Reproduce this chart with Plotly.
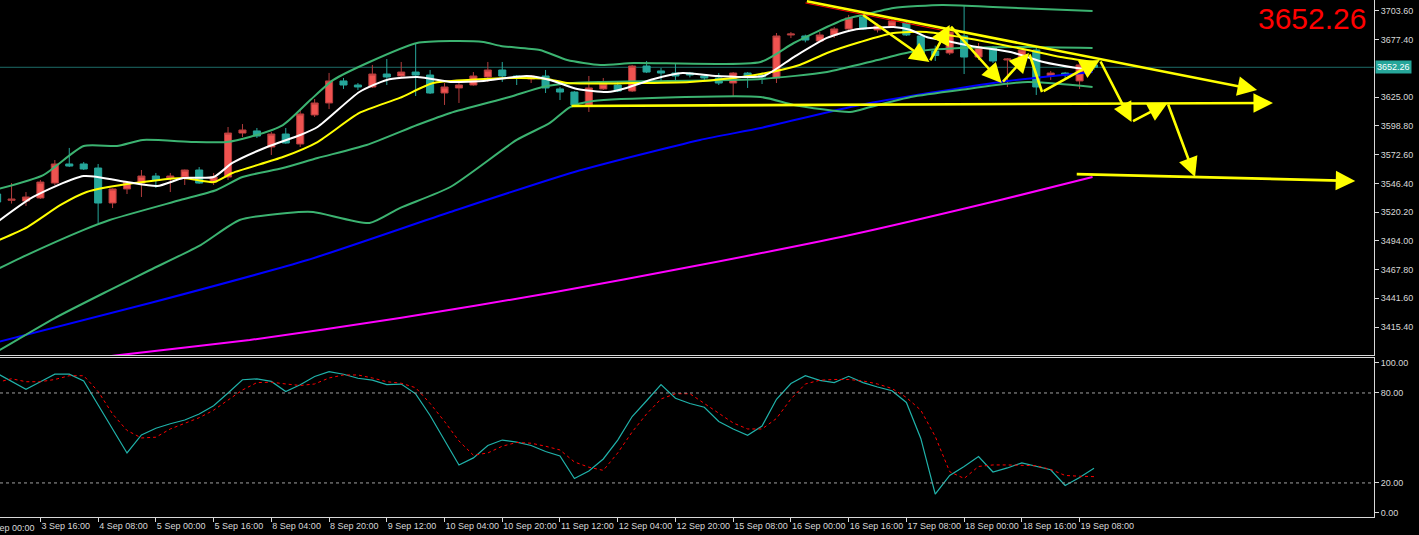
import plotly.graph_objects as go

# ---------------- data ----------------
bar_index = list(range(1, 78))

opens = [3536.7, 3531.0, 3530.3, 3533.1, 3546.7, 3564.1, 3564.1, 3560.4, 3528.5, 3541.3,
         3546.7, 3553.1, 3551.3, 3552.2, 3558.6, 3547.6, 3552.2, 3592.3, 3594.2, 3579.6,
         3591.4, 3582.3, 3608.8, 3619.7, 3639.8, 3636.1, 3634.3, 3646.1, 3644.3, 3647.9,
         3645.2, 3628.8, 3633.4, 3636.1, 3643.4, 3649.8, 3644.3, 3641.6, 3644.3, 3632.5,
         3629.7, 3617.9, 3632.5, 3636.1, 3630.6, 3653.4, 3648.9, 3647.0, 3647.0, 3644.3,
         3642.5, 3637.9, 3647.0, 3645.2, 3642.5, 3681.7, 3680.8, 3676.2, 3681.7, 3687.2,
         3698.1, 3686.3, 3689.9, 3692.6, 3680.8, 3667.0, 3665.3, 3680.8, 3661.6, 3669.9,
         3658.9, 3658.9, 3668.0, 3644.3, 3647.0, 3639.8, 3654.4]
highs = [3540.0, 3546.7, 3538.5, 3549.5, 3567.7, 3578.7, 3565.9, 3564.1, 3541.8, 3548.5,
         3558.6, 3555.9, 3555.9, 3559.0, 3561.3, 3555.9, 3597.8, 3600.5, 3596.9, 3593.2,
         3596.9, 3613.3, 3623.3, 3647.1, 3642.5, 3637.9, 3654.4, 3659.8, 3657.1, 3674.4,
         3649.8, 3637.9, 3640.7, 3647.9, 3657.1, 3657.1, 3645.2, 3645.2, 3649.8, 3634.3,
         3630.5, 3644.3, 3642.5, 3638.9, 3654.4, 3658.0, 3651.6, 3655.3, 3648.0, 3646.0,
         3647.0, 3647.9, 3647.9, 3647.0, 3683.5, 3684.4, 3682.0, 3684.4, 3689.0, 3700.0,
         3701.8, 3692.0, 3697.2, 3695.0, 3683.5, 3672.0, 3689.0, 3709.0, 3674.4, 3671.7,
         3660.7, 3669.9, 3670.8, 3648.9, 3648.0, 3657.1, 3657.0]
lows = [3527.0, 3528.0, 3525.8, 3532.2, 3544.9, 3561.3, 3558.6, 3510.3, 3523.9, 3536.7,
        3534.0, 3542.2, 3538.5, 3544.9, 3546.0, 3544.9, 3549.5, 3588.7, 3587.8, 3572.3,
        3582.5, 3579.6, 3606.9, 3614.2, 3632.5, 3631.6, 3633.4, 3636.1, 3643.4, 3626.1,
        3627.9, 3617.9, 3619.7, 3635.5, 3638.9, 3638.9, 3636.1, 3637.9, 3628.8, 3622.4,
        3616.0, 3611.5, 3631.6, 3629.7, 3629.7, 3647.0, 3638.9, 3637.9, 3643.0, 3640.7,
        3636.1, 3625.2, 3633.4, 3637.0, 3637.9, 3678.9, 3675.0, 3675.3, 3679.0, 3684.4,
        3686.3, 3684.0, 3689.0, 3680.8, 3663.5, 3658.0, 3663.5, 3646.1, 3658.9, 3656.2,
        3634.3, 3657.1, 3627.0, 3640.7, 3642.5, 3632.5, 3650.0]
closes = [3529.4, 3532.0, 3534.0, 3547.6, 3564.1, 3562.2, 3559.5, 3528.5, 3541.3, 3547.6,
          3553.1, 3549.5, 3553.1, 3558.6, 3546.7, 3552.2, 3592.3, 3595.1, 3589.6, 3591.4,
          3583.2, 3609.7, 3619.7, 3639.8, 3636.1, 3634.3, 3646.1, 3643.4, 3647.9, 3645.2,
          3628.8, 3634.3, 3636.1, 3644.3, 3649.8, 3644.3, 3642.5, 3644.3, 3633.4, 3629.7,
          3617.9, 3633.4, 3637.0, 3630.6, 3653.4, 3647.9, 3647.0, 3644.3, 3645.2, 3642.5,
          3637.9, 3647.0, 3644.3, 3643.4, 3680.8, 3682.6, 3677.1, 3681.7, 3687.2, 3697.2,
          3687.2, 3689.9, 3694.5, 3681.7, 3665.3, 3663.0, 3684.4, 3661.6, 3670.8, 3658.0,
          3659.8, 3668.0, 3634.3, 3647.0, 3645.2, 3654.4, 3652.26]

# Bollinger bands
upper_x = [1.0, 4.2, 7.0, 9.3, 11.1, 14.6, 16.9, 18.5, 20.8, 22.7, 24.3, 26.8, 30.1, 32.4,
           34.7, 35.9, 38.6, 40.5, 42.8, 45.1, 53.9, 56.2, 59.6, 61.0, 63.1, 66.5, 70.0, 76.9]
upper_y = [3541.0, 3554.0, 3580.5, 3580.5, 3586.0, 3584.1, 3584.1, 3588.7, 3599.6, 3622.4,
           3640.7, 3657.1, 3674.4, 3676.2, 3675.3, 3671.7, 3668.0, 3658.9, 3654.4, 3656.2,
           3657.1, 3674.4, 3695.4, 3700.0, 3706.3, 3709.1, 3707.2, 3703.6]
mid_x = [1.0, 2.6, 7.0, 8.8, 13.7, 16.2, 18.0, 20.8, 23.2, 26.6, 30.1, 32.4, 36.5, 38.8,
         40.9, 42.8, 53.9, 58.5, 62.0, 64.3, 67.7, 72.4, 76.9]
mid_y = [3468.0, 3478.3, 3504.0, 3513.0, 3531.2, 3540.4, 3552.2, 3560.4, 3569.5, 3581.4,
         3599.6, 3610.6, 3625.2, 3634.3, 3637.9, 3638.9, 3641.6, 3648.0, 3658.9, 3666.2,
         3669.9, 3670.8, 3669.9]
lower_x = [1.0, 5.0, 8.8, 11.6, 15.1, 17.8, 21.1, 22.9, 26.8, 28.9, 32.4, 37.0, 39.3, 40.7,
           42.3, 53.9, 56.2, 60.1, 61.5, 64.3, 67.7, 72.4, 76.9]
lower_y = [3393.0, 3423.6, 3449.1, 3467.4, 3490.2, 3513.0, 3519.4, 3520.3, 3510.3, 3523.9,
           3543.1, 3586.0, 3601.5, 3616.0, 3621.5, 3625.2, 3617.9, 3611.5, 3616.0, 3625.2,
           3631.6, 3638.9, 3634.3]

# moving averages
white_x = [1.0, 3.5, 7.0, 10.0, 12.1, 13.9, 16.0, 17.3, 19.7, 22.0, 23.2, 26.1, 28.0, 30.1,
           32.4, 33.1, 34.7, 37.7, 39.3, 41.2, 43.3, 44.6, 46.5, 48.5, 50.9, 54.1, 56.2,
           58.5, 60.3, 63.1, 64.3, 65.4, 66.5, 68.9, 71.2, 73.5, 75.8, 76.9]
white_y = [3511.0, 3534.0, 3553.1, 3547.6, 3544.0, 3551.3, 3552.2, 3565.0, 3579.6, 3590.5,
           3597.8, 3629.7, 3640.7, 3643.4, 3638.9, 3638.9, 3639.8, 3644.3, 3640.7, 3632.5,
           3629.7, 3633.4, 3641.6, 3647.0, 3644.3, 3644.3, 3661.6, 3679.0, 3686.3, 3689.0,
           3686.3, 3679.9, 3677.1, 3670.8, 3666.2, 3657.1, 3651.6, 3649.8]
yellow_x = [1.0, 3.1, 5.4, 7.2, 10.0, 13.9, 16.0, 17.3, 20.8, 23.2, 26.1, 28.9, 31.2, 33.6,
            37.0, 39.1, 40.5, 45.1, 49.0, 52.0, 53.9, 56.6, 58.5, 60.8, 63.1, 65.4, 67.7,
            70.0, 72.4, 74.7, 76.9]
yellow_y = [3494.0, 3506.6, 3526.7, 3538.5, 3545.8, 3551.3, 3547.6, 3555.9, 3570.4, 3584.1,
            3610.6, 3624.3, 3637.9, 3640.7, 3642.5, 3641.6, 3637.9, 3637.9, 3638.9, 3642.5,
            3646.1, 3654.4, 3665.3, 3675.3, 3683.5, 3684.4, 3679.9, 3674.4, 3668.0, 3661.6,
            3657.1]
blue_x = [1.0, 11.6, 22.5, 32.4, 41.0, 49.7, 53.9, 60.8, 70.5, 76.9]
blue_y = [3401.5, 3437.3, 3476.5, 3520.3, 3556.8, 3586.0, 3596.9, 3617.9, 3638.9, 3648.0]
magenta_x = [1.0, 9.5, 18.5, 28.9, 39.3, 49.7, 60.1, 70.5, 76.9]
magenta_y = [3377.0, 3389.9, 3403.6, 3423.6, 3446.4, 3471.9, 3499.3, 3531.2, 3552.2]

# stochastic oscillator
stoch_main = [93, 87.5, 82.5, 87.5, 92.5, 92.5, 88, 72, 56, 40,
              52, 56.5, 59.5, 62, 66, 71.5, 80, 88.8, 89.4, 87.7,
              81, 85.5, 91, 94.2, 92.5, 89.8, 88.6, 85.6, 85.9, 79.4,
              65, 48, 32, 36.7, 45, 48.6, 47.2, 45, 41, 38,
              23, 28, 36, 48.6, 64.3, 74.8, 85.6, 76.5, 73, 70.5,
              61, 56, 51.8, 58, 75.8, 86.3, 91.5, 88.4, 86.9, 91.1,
              86.9, 84, 81.5, 73.7, 49.7, 12.5, 25, 31, 37.6, 27.3,
              30, 33.4, 31, 28.8, 18.3, 23.6, 29.8]
stoch_signal = [87, 89.5, 87.5, 87.5, 89, 91.5, 91.5, 81, 66, 55,
                50, 50.5, 56, 60, 63.5, 68.5, 75, 82, 86.9, 87.2,
                86, 85, 86, 90, 92, 92, 90, 87.5, 86.5, 83.5,
                73, 61, 48, 38.5, 40, 44.5, 47, 46.5, 44.5, 42,
                34, 30.5, 28.4, 40, 54, 66, 76, 79.5, 79.5, 73,
                66, 60, 56, 56, 63, 76, 86, 88.5, 89, 89,
                88, 86, 83, 77, 68.5, 51, 27.5, 23, 31, 32,
                32, 32, 31.5, 29, 25, 24.5, 24.2]
stoch_levels = [80, 20]

# time axis
tick_index = list(range(0, 77, 4))
tick_labels = ["3 Sep 00:00", "3 Sep 16:00", "4 Sep 08:00", "5 Sep 00:00", "5 Sep 16:00",
               "8 Sep 04:00", "8 Sep 20:00", "9 Sep 12:00", "10 Sep 04:00", "10 Sep 20:00",
               "11 Sep 12:00", "12 Sep 04:00", "12 Sep 20:00", "15 Sep 08:00", "16 Sep 00:00",
               "16 Sep 16:00", "17 Sep 08:00", "18 Sep 00:00", "18 Sep 16:00", "19 Sep 08:00"]
price_ticks = [3415.40, 3441.60, 3467.80, 3494.00, 3520.20, 3546.40, 3572.60, 3598.80,
               3625.00, 3677.40, 3703.60]
stoch_ticks = [0, 20, 80, 100]
last_price = 3652.26

# hand-drawn analysis arrows
arrow_tail_x = [57.0, 60.9, 65.6, 67.0, 70.6, 72.5, 73.4, 77.4, 79.6, 82.1, 40.7, 75.7]
arrow_tail_y = [3712.7, 3700.9, 3657.1, 3690.8, 3637.9, 3665.3, 3629.7, 3658.9, 3602.4,
                3619.7, 3617.0, 3554.9]
arrow_head_x = [88.3, 65.6, 67.0, 70.6, 72.5, 73.4, 77.4, 79.6, 82.1, 84.0, 89.4, 95.1]
arrow_head_y = [3631.6, 3657.1, 3690.8, 3637.9, 3665.3, 3629.7, 3658.9, 3602.4, 3619.7,
                3552.2, 3619.7, 3548.6]
arrow_has_head = [True, True, True, True, True, False, True, True, True, True, True, True]
red_line_x = [57.0, 66.7]
red_line_y = [3710.9, 3685.4]

# ---------------- figure ----------------
AX = "#d8d8d8"
FONT = "Liberation Sans"
x_range = [1.2, 96.4]

fig = go.Figure()

fig.add_trace(go.Candlestick(
    x=bar_index, open=opens, high=highs, low=lows, close=closes,
    increasing=dict(line=dict(color="#b23c3c", width=1), fillcolor="#EF5350"),
    decreasing=dict(line=dict(color="#26A69A", width=1), fillcolor="#26A69A"),
    xaxis="x", yaxis="y", showlegend=False, hoverinfo="skip"))

def add_line(xs, ys, color, width=2, xaxis="x", yaxis="y", dash=None, shape="spline"):
    fig.add_trace(go.Scatter(
        x=xs, y=ys, mode="lines", xaxis=xaxis, yaxis=yaxis,
        line=dict(color=color, width=width, dash=dash, shape=shape,
                  smoothing=0.6 if shape == "spline" else None),
        showlegend=False, hoverinfo="skip"))

add_line(magenta_x, magenta_y, "#FF00FF")
add_line(blue_x, blue_y, "#0000FF")
add_line(upper_x, upper_y, "#3CB371")
add_line(mid_x, mid_y, "#3CB371")
add_line(lower_x, lower_y, "#3CB371")
add_line(yellow_x, yellow_y, "#FFFF00")
add_line(white_x, white_y, "#FFFFFF")
add_line(red_line_x, red_line_y, "#FF0000", width=1, shape="linear")

add_line(bar_index, stoch_main, "#20B2AA", width=1.2, xaxis="x2", yaxis="y2", shape="linear")
add_line(bar_index, stoch_signal, "#FF0000", width=1, xaxis="x2", yaxis="y2",
         dash="dot", shape="linear")

shapes = [dict(type="line", xref="paper", yref="y", x0=0, x1=1, y0=last_price, y1=last_price,
               line=dict(color="#1d6d68", width=1), layer="below")]
for lv in stoch_levels:
    shapes.append(dict(type="line", xref="paper", yref="y2", x0=0, x1=1, y0=lv, y1=lv,
                       line=dict(color="#a0a0a0", width=1, dash="dot")))

annotations = []
for tx, ty, hx, hy, hh in zip(arrow_tail_x, arrow_tail_y, arrow_head_x, arrow_head_y,
                              arrow_has_head):
    annotations.append(dict(
        x=hx, y=hy, ax=tx, ay=ty, xref="x", yref="y", axref="x", ayref="y",
        text="", showarrow=True, arrowhead=2 if hh else 0, arrowsize=1.5,
        arrowwidth=2.6, arrowcolor="#FFFF00", standoff=0))

annotations.append(dict(
    x=1, xref="paper", y=last_price, yref="y", xanchor="left", yanchor="middle",
    xshift=1, text=f"{last_price:.2f}", showarrow=False, bgcolor="#26A69A",
    font=dict(family=FONT, size=9, color="#ffffff"), borderpad=1))
annotations.append(dict(
    x=0.9956, xref="paper", y=1, yref="paper", xanchor="right", yanchor="top",
    text=f"{last_price:.2f}", showarrow=False,
    font=dict(family=FONT, size=30, color="#FF0000")))
# first time label lies left of the visible range: place it via paper coords derived from its index
first_label_paper = (tick_index[0] - x_range[0]) / (x_range[1] - x_range[0])
annotations.append(dict(
    x=first_label_paper, xref="paper", y=0, yref="paper", xanchor="left", yanchor="top",
    yshift=-4, xshift=1, text=tick_labels[0], showarrow=False,
    font=dict(family=FONT, size=9, color=AX)))

tickfont = dict(family=FONT, size=9, color=AX)

fig.update_layout(
    template="none",
    width=1419, height=535,
    margin=dict(l=0, r=45, t=0, b=18, autoexpand=False),
    paper_bgcolor="black", plot_bgcolor="black",
    showlegend=False,
    xaxis=dict(domain=[0, 1], anchor="y", range=x_range, showticklabels=False,
               showgrid=False, zeroline=False, showline=True, linecolor=AX, linewidth=1,
               ticks="", rangeslider=dict(visible=False), automargin=False),
    yaxis=dict(domain=[0.3133, 1], anchor="x", side="right", range=[3389.9, 3713.6],
               tickvals=price_ticks, ticktext=[f"{v:.2f}" for v in price_ticks],
               showgrid=False, zeroline=False, showline=True, linecolor=AX, linewidth=1,
               ticks="outside", ticklen=4, tickcolor=AX, tickfont=tickfont,
               automargin=False),
    xaxis2=dict(domain=[0, 1], anchor="y2", range=x_range, tickvals=tick_index[1:],
                ticktext=tick_labels[1:], ticks="outside", ticklen=4, tickcolor=AX,
                ticklabelposition="outside right", tickangle=0, tickfont=tickfont,
                showgrid=False, zeroline=False, showline=True, mirror=True,
                linecolor=AX, linewidth=1, automargin=False),
    yaxis2=dict(domain=[0, 0.3075], anchor="x2", side="right", range=[-2.7, 103.3],
                tickvals=stoch_ticks, ticktext=[f"{v:.2f}" for v in stoch_ticks],
                showgrid=False, zeroline=False, showline=True, linecolor=AX, linewidth=1,
                ticks="outside", ticklen=4, tickcolor=AX, tickfont=tickfont,
                automargin=False),
    shapes=shapes,
    annotations=annotations,
)

fig.write_html(
    "out.html",
    config={"displayModeBar": False},
    post_script="document.body.style.margin='0';document.body.style.overflow='hidden';"
                "document.body.style.background='black';",
)
